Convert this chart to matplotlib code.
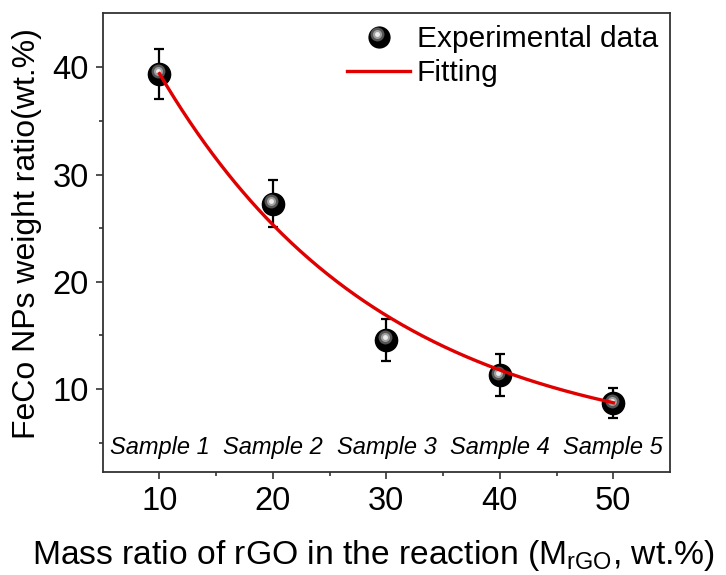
import numpy as np
import matplotlib
matplotlib.use("Agg")
import matplotlib.pyplot as plt
from matplotlib.lines import Line2D
from matplotlib.legend_handler import HandlerBase
import matplotlib.transforms as mtransforms

plt.rcParams['font.family'] = ['Liberation Sans', 'DejaVu Sans']
plt.rcParams['mathtext.fontset'] = 'custom'
plt.rcParams['mathtext.rm'] = 'Liberation Sans'

# ---- data ----
mass_ratio = [10, 20, 30, 40, 50]
feco_ratio = [39.4, 27.3, 14.6, 11.3, 8.7]
feco_err = [2.3, 2.2, 1.95, 1.95, 1.4]
sample_labels = ["Sample 1", "Sample 2", "Sample 3", "Sample 4", "Sample 5"]
x_ticks = [10, 20, 30, 40, 50]
y_ticks = [10, 20, 30, 40]
# exponential decay fit parameters: y = y0 + A*exp(-x/t)
fit_y0 = 4.15
fit_A = 58.75
fit_t = 19.6

fig = plt.figure(figsize=(7.26, 5.75), dpi=100)
ax = fig.add_axes([0.1415, 0.1797, 0.7814, 0.7972])

# fitted curve
xf = np.linspace(mass_ratio[0], mass_ratio[-1], 300)
yf = fit_y0 + fit_A * np.exp(-xf / fit_t)

# error bars
ax.errorbar(mass_ratio, feco_ratio, yerr=feco_err, fmt='none', ecolor='black',
            elinewidth=1.6, capsize=3.6, capthick=1.6, zorder=2)

# sphere-looking markers
ax.plot(mass_ratio, feco_ratio, 'o', color='black', markersize=16, zorder=3)
hl = mtransforms.offset_copy(ax.transData, fig=fig, x=-1.5, y=2.5, units='dots')
ax.plot(mass_ratio, feco_ratio, 'o', color='#555555', markersize=10,
        markeredgewidth=0, transform=hl, zorder=3.1)
ax.plot(mass_ratio, feco_ratio, 'o', color='#a0a0a0', markersize=6.5,
        markeredgewidth=0, transform=hl, zorder=3.2)
ax.plot(mass_ratio, feco_ratio, 'o', color='#ececec', markersize=3.5,
        markeredgewidth=0, transform=hl, zorder=3.3)

ax.plot(xf, yf, color='#e00000', linewidth=2.4, zorder=4)

# sample labels
for xv, lab in zip(mass_ratio, sample_labels):
    ax.text(xv, 0.052, lab, transform=ax.get_xaxis_transform(),
            ha='center', va='center', fontsize=17, style='italic')

ax.set_xlim(5, 55)
ax.set_ylim(2.3, 45.05)
ax.set_xticks(x_ticks)
ax.set_yticks(y_ticks)
ax.set_xticks([15, 25, 35, 45], minor=True)
ax.set_yticks([5, 15, 25, 35], minor=True)
ax.tick_params(which='major', direction='out', length=5, width=1.2,
               labelsize=23.5, color='#333333', pad=5)
ax.tick_params(which='minor', direction='out', length=3, width=1.2,
               color='#333333')
for s in ax.spines.values():
    s.set_linewidth(1.3)
    s.set_color('#333333')

ax.set_xlabel(r"Mass ratio of rGO in the reaction (M$_{\mathregular{rGO}}$, wt.%)",
              fontsize=24.2)
ax.xaxis.set_label_coords(0.4765, -0.145)
ax.set_ylabel("FeCo NPs weight ratio(wt.%)", fontsize=23)
ax.yaxis.set_label_coords(-0.107, 0.5186)


class SphereHandler(HandlerBase):
    def create_artists(self, legend, orig_handle, xdescent, ydescent,
                       width, height, fontsize, trans):
        cx = width / 2 - xdescent
        cy = height / 2 - ydescent
        arts = []
        specs = [(0, 0, 'black', 16), (-1.1, 1.8, '#555555', 10),
                 (-1.1, 1.8, '#a0a0a0', 6.5), (-1.1, 1.8, '#ececec', 3.5)]
        for dx, dy, c, ms in specs:
            l = Line2D([cx + dx], [cy + dy], marker='o', color=c,
                       markersize=ms, markeredgewidth=0, linestyle='none')
            l.set_transform(trans)
            arts.append(l)
        return arts


sphere_handle = Line2D([], [], marker='o', color='black', linestyle='none')
fit_handle = Line2D([], [], color='#e00000', linewidth=2.4)
ax.legend([sphere_handle, fit_handle], ["Experimental data", "Fitting"],
          handler_map={sphere_handle: SphereHandler()},
          loc='upper right', bbox_to_anchor=(1.0, 1.0), frameon=False,
          fontsize=21.5, handlelength=2.1, handletextpad=0.23,
          labelspacing=0.2, borderaxespad=0.2, borderpad=0.2)

fig.savefig("out.png", dpi=100)
